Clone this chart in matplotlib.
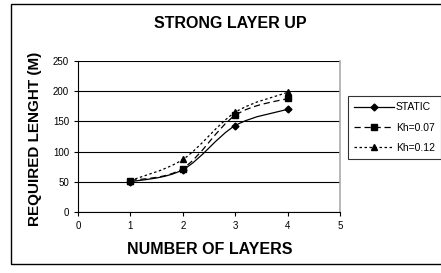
import matplotlib
matplotlib.use("Agg")
import matplotlib.pyplot as plt
from matplotlib.path import Path
from matplotlib.patches import PathPatch, Rectangle
from matplotlib.lines import Line2D
import numpy as np

plt.rcParams['font.family'] = ['Liberation Sans', 'DejaVu Sans']

layers = [1, 2, 3, 4]
static = [50, 70, 143, 170]
kh007 = [52, 72, 160, 188]
kh012 = [52, 87, 165, 198]
labels = ["STATIC", "Kh=0.07", "Kh=0.12"]
xticks = [0, 1, 2, 3, 4, 5]
yticks = [0, 50, 100, 150, 200, 250]

fig = plt.figure(figsize=(4.41, 2.73), dpi=100)
ax = fig.add_axes([78/441, 1-212/273, (340-78)/441, (212-61)/273])

def smooth_path(xs, ys, t=1/6):
    xs = np.asarray(xs, float); ys = np.asarray(ys, float)
    n = len(xs)
    verts = [(xs[0], ys[0])]
    codes = [Path.MOVETO]
    for i in range(n-1):
        p0 = (xs[max(i-1, 0)], ys[max(i-1, 0)])
        p1 = (xs[i], ys[i]); p2 = (xs[i+1], ys[i+1])
        p3 = (xs[min(i+2, n-1)], ys[min(i+2, n-1)])
        c1 = (p1[0] + (p2[0]-p0[0])*t, p1[1] + (p2[1]-p0[1])*t)
        c2 = (p2[0] - (p3[0]-p1[0])*t, p2[1] - (p3[1]-p1[1])*t)
        verts += [c1, c2, p2]
        codes += [Path.CURVE4]*3
    return Path(verts, codes)

series = [(static, '-', 'D', 3.5), (kh007, (0, (5, 3)), 's', 4), (kh012, (0, (2, 2)), '^', 4.5)]
handles = []
for (vals, ls, mk, ms), lab in zip(series, labels):
    ax.add_patch(PathPatch(smooth_path(layers, vals), fill=False, ec='black', lw=0.9, ls=ls))
    ax.plot(layers, vals, ls='none', marker=mk, ms=ms, color='black')
    handles.append(Line2D([], [], color='black', ls=ls, lw=0.9, marker=mk, ms=ms, label=lab))

ax.set_xlim(0, 5)
ax.set_ylim(0, 250)
ax.set_xticks(xticks)
ax.set_yticks(yticks)
ax.tick_params(labelsize=7, length=3, width=0.8, direction='out')
ax.yaxis.grid(True, color='black', lw=0.8)
ax.set_axisbelow(True)
ax.spines['top'].set_visible(False)
ax.spines['right'].set_color('#aaaaaa')
ax.spines['right'].set_linewidth(1.2)
ax.spines['left'].set_linewidth(0.8)
ax.spines['bottom'].set_linewidth(0.8)

fig.text(230/441, 1-23/273, "STRONG LAYER UP", ha='center', va='center', fontsize=11.5, fontweight='bold')
fig.text(210/441, 1-250/273, "NUMBER OF LAYERS", ha='center', va='center', fontsize=11.5, fontweight='bold')
fig.text(35/441, 1-139/273, "REQUIRED LENGHT (M)", ha='center', va='center', rotation=90, fontsize=11, fontweight='bold')

leg = fig.legend(handles=handles, loc='upper left', bbox_to_anchor=(348/441, 1-96/273),
                 fontsize=7.5, frameon=True, fancybox=False, edgecolor='black',
                 handlelength=3.8, borderpad=0.6, labelspacing=1.0, handletextpad=0.2,
                 borderaxespad=0)
leg.get_frame().set_linewidth(0.8)

fig.patches.append(Rectangle((11/441, 1-264/273), 1.2, (264-4)/273, transform=fig.transFigure,
                             fill=False, ec='black', lw=1.0))

fig.savefig("out.png", dpi=100)
